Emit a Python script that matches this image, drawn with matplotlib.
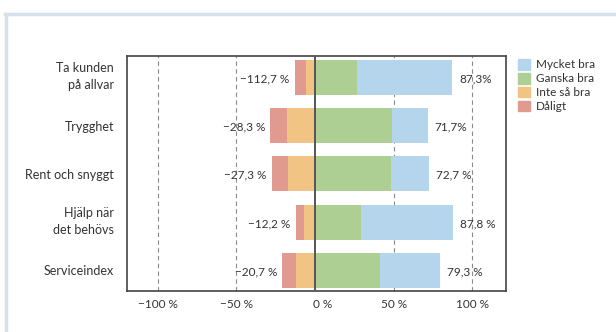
import matplotlib.pyplot as plt
from matplotlib.patches import Patch
from matplotlib.lines import Line2D
from matplotlib.transforms import ScaledTranslation
import numpy as np

plt.rcParams['font.family'] = ['Lato', 'DejaVu Sans']

# Andel svar per fråga (%)
categories = ["Ta kunden\npå allvar", "Trygghet", "Rent och snyggt",
              "Hjälp när\ndet behövs", "Serviceindex"]
mycket_bra = [60.6, 22.7, 24.7, 58.3, 38.3]
ganska_bra = [26.7, 49.0, 48.0, 29.5, 41.0]
inte_sa_bra = [5.8, 17.8, 16.9, 6.7, 12.3]
daligt = [6.9, 10.5, 10.4, 5.5, 8.4]
neg_labels = ["\u2212112,7 %", "\u221228,3 %", "\u221227,3 %", "\u221212,2 %", "\u221220,7 %"]
pos_labels = ["87,3%", "71,7%", "72,7 %", "87,8 %", "79,3 %"]
xticks = [-100, -50, 0, 50, 100]
xtick_labels = ["\u2212100 %", "\u221250 %", "0 %", "50 %", "100 %"]

c_blue = "#b5d5ec"
c_green = "#aecf93"
c_orange = "#f2c484"
c_red = "#e09a90"
txt = "#333333"

fig = plt.figure(figsize=(6.16, 3.32), dpi=100)
ax = fig.add_axes([0.2067, 0.1244, 0.6147, 0.7069])

y = np.arange(len(categories))
h = 0.72
mb = np.array(mycket_bra)
gb = np.array(ganska_bra)
isb = np.array(inte_sa_bra)
dl = np.array(daligt)

ax.barh(y, gb, height=h, color=c_green, zorder=2)
ax.barh(y, mb, left=gb, height=h, color=c_blue, zorder=2)
ax.barh(y, -isb, height=h, color=c_orange, zorder=2)
ax.barh(y, -dl, left=-isb, height=h, color=c_red, zorder=2)

for i in range(len(categories)):
    ax.annotate(neg_labels[i], (-(isb[i] + dl[i]), y[i]), xytext=(-4, -1),
                textcoords="offset points", ha="right", va="center",
                fontsize=8.5, color=txt)
    ax.annotate(pos_labels[i], (gb[i] + mb[i], y[i]), xytext=(5, -1),
                textcoords="offset points", ha="left", va="center",
                fontsize=8.5, color=txt)

for gx in [-100, -50, 50, 100]:
    ax.axvline(gx, color="#8a8a8a", lw=0.8, ls=(0, (4, 3)), zorder=1)
ax.axvline(0, color="#555555", lw=1.4, zorder=3)

ax.set_xlim(-119.3, 121.4)
ax.set_ylim(4.42, -0.44)
ax.set_yticks(y)
ax.set_yticklabels(categories, fontsize=9, color=txt, ha="right", linespacing=1.45)
ax.set_xticks(xticks)
ax.set_xticklabels(xtick_labels, fontsize=8.5, color=txt)
ax.tick_params(axis="both", length=0)
ax.tick_params(axis="y", pad=9.5)
ax.tick_params(axis="x", pad=6)
for s in ax.spines.values():
    s.set_color("#444444")
    s.set_linewidth(1.2)

# tvåradiga etiketter sitter lite högre än stapelns mitt
for lab in ax.get_yticklabels():
    if "\n" in lab.get_text():
        lab.set_transform(lab.get_transform() + ScaledTranslation(0, 4 / 100, fig.dpi_scale_trans))

# "0 %" sitter lite till höger om nollinjen
zero_lab = ax.get_xticklabels()[2]
zero_lab.set_transform(zero_lab.get_transform() + ScaledTranslation(8 / 100, 0, fig.dpi_scale_trans))

handles = [Patch(color=c_blue), Patch(color=c_green), Patch(color=c_orange), Patch(color=c_red)]
fig.legend(handles, ["Mycket bra", "Ganska bra", "Inte så bra", "Dåligt"],
           loc="upper left", bbox_to_anchor=(0.832, 0.84), frameon=False,
           fontsize=8.5, handlelength=1.0, handleheight=1.0, handletextpad=0.5,
           labelspacing=0.22, borderpad=0, labelcolor=txt)

# ram runt panelen
fig.add_artist(Line2D([5 / 616, 1.0], [1 - 14 / 332, 1 - 14 / 332], transform=fig.transFigure,
                      color="#d6e2ea", lw=2.5))
fig.add_artist(Line2D([6 / 616, 6 / 616], [0, 1 - 14 / 332], transform=fig.transFigure,
                      color="#d6e2ea", lw=2.5))

fig.savefig("out.png", dpi=100)
